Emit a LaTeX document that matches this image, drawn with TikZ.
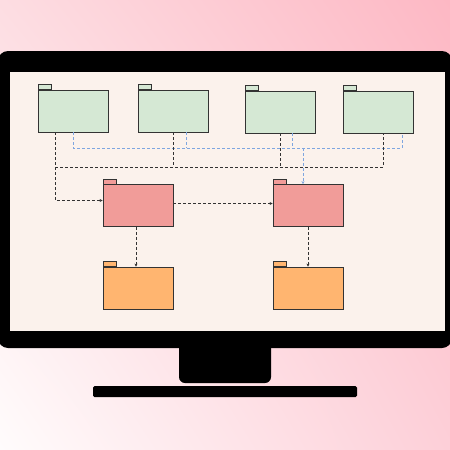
\documentclass[tikz,border=0pt]{standalone}
\usetikzlibrary{arrows.meta,shadings}
\definecolor{pkLight}{HTML}{FDDDE2}
\definecolor{pkDeep}{HTML}{FDB8C4}
\definecolor{pkPale}{HTML}{FFFCFC}
\definecolor{pkMid}{HTML}{FDCFD8}
\definecolor{screenCream}{HTML}{FBF2EC}
\definecolor{pkgGreen}{HTML}{D5E8D4}
\definecolor{pkgRed}{HTML}{F19C99}
\definecolor{pkgOrange}{HTML}{FFB570}
\definecolor{useBlue}{HTML}{7EA6E0}

\begin{document}
\begin{tikzpicture}[x=1pt, y=-1pt,
    folder/.style={rectangle, draw=black!80, line width=0.8pt, minimum width=70pt, minimum height=42pt, inner sep=0pt},
    tab/.style={rectangle, draw=black!80, line width=0.6pt, minimum width=13pt, minimum height=5pt, inner sep=0pt, anchor=south west},
    dep/.style={draw=black!80, line width=0.8pt, dash pattern=on 3pt off 2pt},
    use/.style={draw=useBlue, line width=0.8pt, dash pattern=on 3pt off 2pt},
    tip/.style={-{Stealth[length=3pt, width=3pt]}}]
                        \useasboundingbox (0,0) rectangle (450,450);
                        \shade[upper left=pkLight, upper right=pkDeep, lower left=pkPale, lower right=pkMid] (0,0) rectangle (450,450);

                        % monitor
                        \fill[black, rounded corners=10pt] (-2,51) rectangle (452,348);
                        \fill[screenCream] (10,72) rectangle (445,331);
                        \fill[black, rounded corners=6pt] (179,335) rectangle (271,383);
                        \fill[black, rounded corners=1.5pt] (93,386) rectangle (357,397);

                        % packages
                        \node[folder, fill=pkgGreen] (g1) at (73,111) {};
                        \node[folder, fill=pkgGreen] (g2) at (173,111) {};
                        \node[folder, fill=pkgGreen] (g3) at (280,112) {};
                        \node[folder, fill=pkgGreen] (g4) at (378,112) {};
                        \node[folder, fill=pkgRed] (r1) at (138,205.5) {};
                        \node[folder, fill=pkgRed] (r2) at (308,205.5) {};
                        \node[folder, fill=pkgOrange] (o1) at (138,288) {};
                        \node[folder, fill=pkgOrange] (o2) at (308,288) {};

                        \node[tab, fill=pkgGreen] (tg1) at (g1.north west) {};
                        \node[tab, fill=pkgGreen] (tg2) at (g2.north west) {};
                        \node[tab, fill=pkgGreen] (tg3) at (g3.north west) {};
                        \node[tab, fill=pkgGreen] (tg4) at (g4.north west) {};
                        \node[tab, fill=pkgRed] (tr1) at (r1.north west) {};
                        \node[tab, fill=pkgRed] (tr2) at (r2.north west) {};
                        \node[tab, fill=pkgOrange] (to1) at (o1.north west) {};
                        \node[tab, fill=pkgOrange] (to2) at (o2.north west) {};

                        \coordinate (bus) at (0,167);
                        \coordinate (ubus) at (0,148);

                        % blue lines
                        \draw[use] (g1.south) |- ([xshift=24pt]g4.south |- ubus) -- ([xshift=24pt]g4.south);
                        \draw[use] ([xshift=13pt]g2.south) -- ([xshift=13pt]g2.south |- ubus);
                        \draw[use] ([xshift=12pt]g3.south) -- ([xshift=12pt]g3.south |- ubus);
                        \draw[use, tip] ([xshift=-5pt]r2.north |- ubus) -- ([xshift=-5pt]r2.north);

                        % black lines
                        \draw[dep] ([xshift=-18pt]g1.south |- bus) -- ([xshift=5pt]g4.south |- bus) -- ([xshift=5pt]g4.south);
                        \draw[dep] (g2.south) -- (g2.south |- bus);
                        \draw[dep] (g3.south) -- (g3.south |- bus);
                        \draw[dep, tip] ([xshift=-18pt]g1.south) |- ([yshift=5pt]r1.west);
                        \draw[dep, tip] ([yshift=2pt]r1.east) -- ([yshift=2pt]r2.west);
                        \draw[dep, tip] ([xshift=-2pt]r1.south) -- ([xshift=-2pt]o1.north);
                        \draw[dep, tip] (r2.south) -- (o2.north);
                    \end{tikzpicture}
\end{document}
